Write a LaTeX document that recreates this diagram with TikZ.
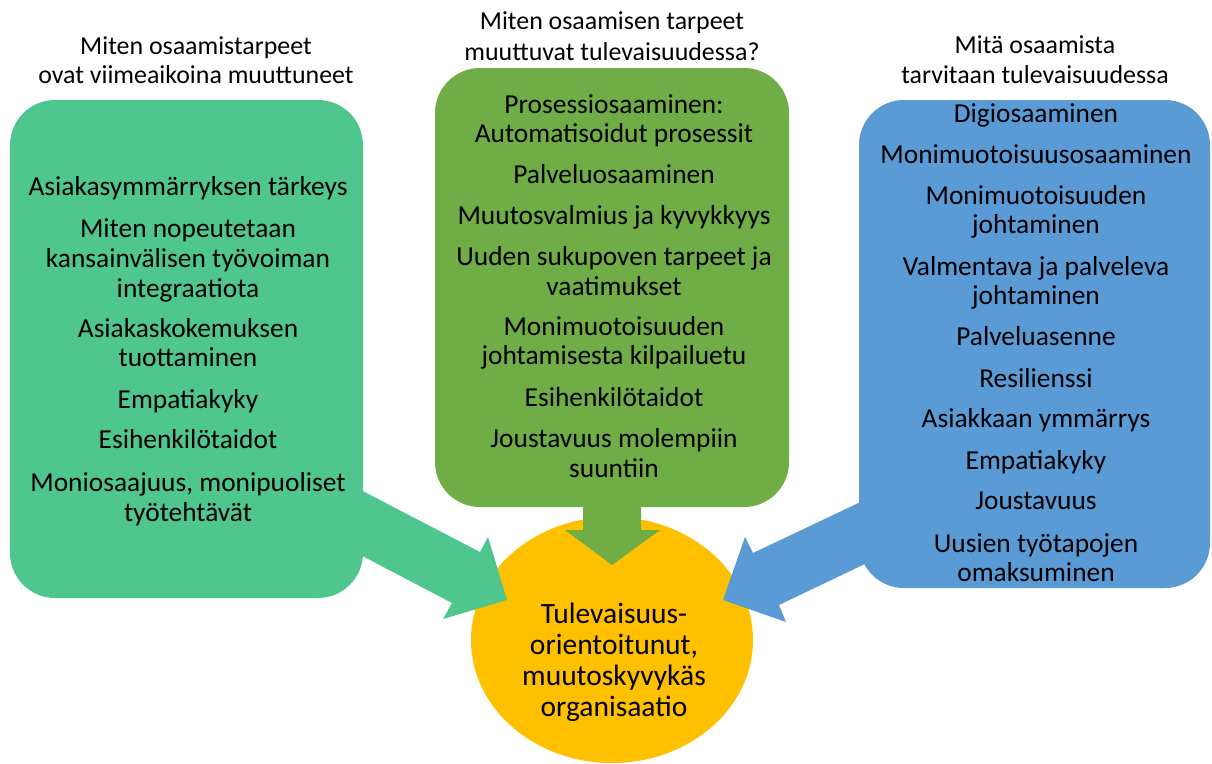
\documentclass[tikz,border=0pt]{standalone}
\usepackage{fontspec}
\setmainfont{Carlito}
\usetikzlibrary{shapes.geometric}
\definecolor{lgreen}{RGB}{80,198,143}
\definecolor{mgreen}{RGB}{112,173,71}
\definecolor{rblue}{RGB}{91,155,213}
\definecolor{gold}{RGB}{255,192,0}
\begin{document}
\begin{tikzpicture}[x=1pt,y=-1pt,
  txt/.style={inner sep=0pt, anchor=base, font=\fontsize{27.4}{30}\selectfont},
  ttl/.style={inner sep=0pt, anchor=base, font=\fontsize{25.9}{30}\selectfont},
  ctxt/.style={inner sep=0pt, anchor=base, font=\fontsize{29.5}{31}\selectfont},
  box/.style={rectangle, rounded corners=45pt, inner sep=0pt, draw=none}]
\useasboundingbox (0,0) rectangle (1212,763);
% target circle
\node[ellipse, fill=gold, minimum width=282pt, minimum height=246pt, inner sep=0pt] (org) at (612,640) {};
% block arrows
\fill[lgreen] (330,474) -- (480,552) -- (488,537) -- (507,600) -- (443,619) -- (452,603) -- (330,539) -- cycle;
\fill[rblue] (890,488) -- (753,553) -- (745,537) -- (723,600) -- (786,622) -- (779,605) -- (890,552) -- cycle;
\fill[mgreen] (583,480) -- (583,530) -- (565,530) -- (612,565) -- (660,530) -- (641,530) -- (641,480) -- cycle;
% boxes
\node[box, fill=lgreen, minimum width=353pt, minimum height=498pt] (lbox) at (186.5,349) {};
\node[box, fill=mgreen, minimum width=354pt, minimum height=439pt] (mbox) at (612,287.5) {};
\node[box, fill=rblue, minimum width=351pt, minimum height=488pt] (rbox) at (1034.5,344) {};
% titles
\node[ttl] (t1) at (196,54) {Miten osaamistarpeet};
\node[ttl] (t2) at (196,83) {ovat viimeaikoina muuttuneet};
\node[ttl] (t3) at (612,29) {Miten osaamisen tarpeet};
\node[ttl] (t4) at (612,60) {muuttuvat tulevaisuudessa?};
\node[ttl] (t5) at (1035,53) {Mitä osaamista};
\node[ttl] (t6) at (1035,83) {tarvitaan tulevaisuudessa};
% left items
\foreach \t/\y [count=\i] in {Asiakasymmärryksen tärkeys/195, Miten nopeutetaan/237, kansainvälisen työvoiman/267, integraatiota/297, Asiakaskokemuksen/337, tuottaminen/366, Empatiakyky/408, Esihenkilötaidot/448, {Moniosaajuus, monipuoliset}/491, työtehtävät/521}
  {\node[txt] (L\i) at (188,\y) {\t};}
% middle items
\foreach \t/\y [count=\i] in {Prosessiosaaminen:/113, Automatisoidut prosessit/142, Palveluosaaminen/183, Muutosvalmius ja kyvykkyys/224, Uuden sukupoven tarpeet ja/265, vaatimukset/295, Monimuotoisuuden/335, johtamisesta kilpailuetu/364, Esihenkilötaidot/406, Joustavuus molempiin/447, suuntiin/477}
  {\node[txt] (M\i) at (614,\y) {\t};}
% right items
\foreach \t/\y [count=\i] in {Digiosaaminen/122, Monimuotoisuusosaaminen/163, Monimuotoisuuden/204, johtaminen/233, Valmentava ja palveleva/275, johtaminen/304, Palveluasenne/345, Resilienssi/387, Asiakkaan ymmärrys/427, Empatiakyky/469, Joustavuus/509, Uusien työtapojen/552, omaksuminen/581}
  {\node[txt] (R\i) at (1036,\y) {\t};}
% circle text
\foreach \t/\y [count=\i] in {Tulevaisuus-/623, {orientoitunut,}/654, muutoskyvykäs/685, organisaatio/716}
  {\node[ctxt] (C\i) at (614,\y) {\t};}
\end{tikzpicture}
\end{document}
